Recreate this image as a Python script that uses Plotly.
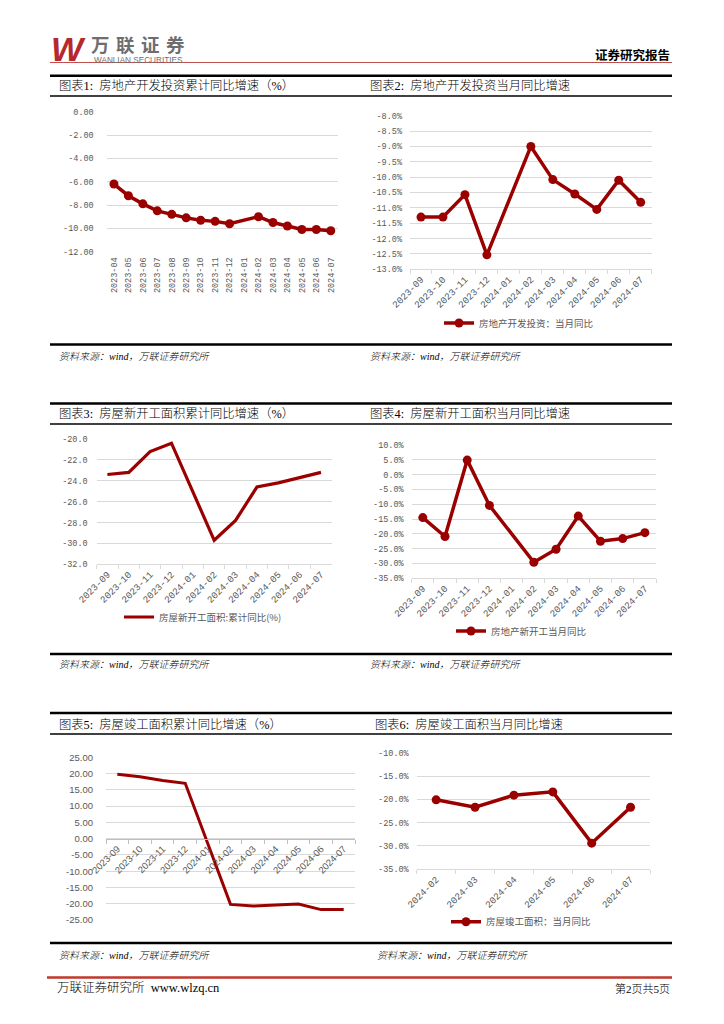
import plotly.graph_objects as go

W, H = 724, 1024
RED = "#9B0000"
GRID = "#D9D9D9"
TICKC = "#595959"
MONO = "Liberation Mono, Noto Sans CJK SC"
SANS = "Liberation Sans, Noto Sans CJK SC"
CJK = "Liberation Serif, Noto Sans CJK SC"

# ---------------- data ----------------
cats_1 = ["2023-04", "2023-05", "2023-06", "2023-07", "2023-08", "2023-09", "2023-10", "2023-11",
          "2023-12", "2024-01", "2024-02", "2024-03", "2024-04", "2024-05", "2024-06", "2024-07"]
vals_1 = [-6.2, -7.2, -7.9, -8.5, -8.8, -9.1, -9.3, -9.4, -9.6, None, -9.0, -9.5, -9.8, -10.1, -10.1, -10.2]
yt_1 = [0, -2, -4, -6, -8, -10, -12]
yl_1 = ["0.00", "-2.00", "-4.00", "-6.00", "-8.00", "-10.00", "-12.00"]
name_1 = "房地产开发投资完成额:累计同比"

cats_2 = ["2023-09", "2023-10", "2023-11", "2023-12", "2024-01", "2024-02",
          "2024-03", "2024-04", "2024-05", "2024-06", "2024-07"]
vals_2 = [-11.3, -11.3, -10.57, -12.53, None, -9.0, -10.08, -10.55, -11.05, -10.1, -10.82]
yt_2 = [-8.0, -8.5, -9.0, -9.5, -10.0, -10.5, -11.0, -11.5, -12.0, -12.5, -13.0]
yl_2 = ["-8.0%", "-8.5%", "-9.0%", "-9.5%", "-10.0%", "-10.5%", "-11.0%", "-11.5%", "-12.0%", "-12.5%", "-13.0%"]
name_2 = "房地产开发投资：当月同比"

cats_3 = list(cats_2)
vals_3 = [-23.4, -23.2, -21.2, -20.4, None, -29.7, -27.8, -24.6, -24.2, -23.7, -23.2]
yt_3 = [-20, -22, -24, -26, -28, -30, -32]
yl_3 = ["-20.0", "-22.0", "-24.0", "-26.0", "-28.0", "-30.0", "-32.0"]
name_3 = "房屋新开工面积:累计同比(%)"

cats_4 = list(cats_2)
vals_4 = [-14.5, -20.9, 4.9, -10.4, None, -29.6, -25.2, -14.0, -22.5, -21.6, -19.6]
yt_4 = [10, 5, 0, -5, -10, -15, -20, -25, -30, -35]
yl_4 = ["10.0%", "5.0%", "0.0%", "-5.0%", "-10.0%", "-15.0%", "-20.0%", "-25.0%", "-30.0%", "-35.0%"]
name_4 = "房地产新开工当月同比"

cats_5 = list(cats_2)
vals_5 = [19.8, 19.0, 17.9, 17.0, None, -20.2, -20.7, -20.4, -20.1, -21.8, -21.8]
yt_5 = [25, 20, 15, 10, 5, 0, -5, -10, -15, -20, -25]
yl_5 = ["25.00", "20.00", "15.00", "10.00", "5.00", "0.00", "-5.00", "-10.00", "-15.00", "-20.00", "-25.00"]
name_5 = "房屋竣工面积:累计同比"

cats_6 = ["2024-02", "2024-03", "2024-04", "2024-05", "2024-06", "2024-07"]
vals_6 = [-20.1, -21.7, -19.1, -18.4, -29.4, -21.7]
yt_6 = [-10, -15, -20, -25, -30, -35]
yl_6 = ["-10.0%", "-15.0%", "-20.0%", "-25.0%", "-30.0%", "-35.0%"]
name_6 = "房屋竣工面积：当月同比"

titles = ["图表1:  房地产开发投资累计同比增速（%）", "图表2:  房地产开发投资当月同比增速",
          "图表3:  房屋新开工面积累计同比增速（%）", "图表4:  房屋新开工面积当月同比增速",
          "图表5:  房屋竣工面积累计同比增速（%）", "图表6:  房屋竣工面积当月同比增速"]
source_text = "资料来源：wind，万联证券研究所"
logo_chars = ["万", "联", "证", "券"]


def PX(x):
    return x / W


def PY(y):
    return 1 - y / H


fig = go.Figure()

panels = [
    dict(c=cats_1, v=vals_1, yt=yt_1, yl=yl_1, name=name_1, xd=(106.7, 338), yd=(251.7, 111.7),
         yr=(-12, 0), ang=-90, xfs=8.5, xf=MONO, yf=MONO, yfs=8.5, so=12, mk=True, lw=3.5,
         ticks=False, leg=(115, 307), xso=3),
    dict(c=cats_2, v=vals_2, yt=yt_2, yl=yl_2, name=name_2, xd=(410, 651.7), yd=(269.3, 115.7),
         yr=(-13, -8), ang=-45, xfs=9.5, xf=MONO, yf=MONO, yfs=8.5, so=7, mk=True, lw=3.5,
         ticks=True, leg=(439, 323), xso=0),
    dict(c=cats_3, v=vals_3, yt=yt_3, yl=yl_3, name=name_3, xd=(96.7, 331.7), yd=(564.3, 439),
         yr=(-32, -20), ang=-45, xfs=9.5, xf=MONO, yf=MONO, yfs=8.5, so=8, mk=False, lw=3.2,
         ticks=True, leg=(119, 617), xso=0),
    dict(c=cats_4, v=vals_4, yt=yt_4, yl=yl_4, name=name_4, xd=(411.7, 656), yd=(578.3, 445),
         yr=(-35, 10), ang=-45, xfs=9.5, xf=MONO, yf=MONO, yfs=8.5, so=7, mk=True, lw=3.5,
         ticks=True, leg=(451, 631), xso=0),
    dict(c=cats_5, v=vals_5, yt=yt_5, yl=yl_5, name=name_5, xd=(106, 355), yd=(920, 757.3),
         yr=(-25, 25), ang=-45, xfs=9.5, xf=SANS, yf=SANS, yfs=9.5, so=12, mk=False, lw=3,
         ticks=True, leg=None, xso=0),
    dict(c=cats_6, v=vals_6, yt=yt_6, yl=yl_6, name=name_6, xd=(416.7, 650), yd=(869.3, 752.7),
         yr=(-35, -10), ang=-45, xfs=9.5, xf=MONO, yf=MONO, yfs=8.5, so=7, mk=True, lw=3.5,
         ticks=True, leg=(446, 921.7), xso=0),
]

layout_updates = {}
for i, p in enumerate(panels, start=1):
    sx = "" if i == 1 else str(i)
    xa, ya = "x" + sx, "y" + sx
    legname = "legend" + sx
    fig.add_trace(go.Scatter(
        x=p["c"], y=p["v"], name=p["name"], xaxis=xa, yaxis=ya,
        mode="lines+markers" if p["mk"] else "lines",
        line=dict(color=RED, width=p["lw"]),
        marker=dict(color=RED, size=9),
        connectgaps=True,
        showlegend=p["leg"] is not None,
        legend=legname,
        hoverinfo="skip",
    ))
    ydom = (PY(p["yd"][0]), PY(p["yd"][1]))
    xaxis = dict(
        domain=[PX(p["xd"][0]), PX(p["xd"][1])], anchor=ya,
        type="category", categoryorder="array", categoryarray=p["c"],
        range=[-0.5, len(p["c"]) - 0.5],
        showgrid=False, zeroline=False, automargin=False,
        tickangle=p["ang"], tickfont=dict(family=p["xf"], size=p["xfs"], color=TICKC),
        ticklabelstandoff=p["xso"],
        showline=p["ticks"], linecolor="#BFBFBF" if i == 5 else GRID, linewidth=1,
        ticks="outside" if p["ticks"] else "", ticklen=4, tickcolor="#BFBFBF" if i == 5 else GRID,
        tickson="boundaries" if p["ticks"] else "labels",
        fixedrange=True,
    )
    if i == 5:
        y0, y1 = ydom
        pos = y0 + (0 - p["yr"][0]) / (p["yr"][1] - p["yr"][0]) * (y1 - y0)
        xaxis.update(anchor="free", position=pos)
    yaxis = dict(
        domain=list(ydom), anchor=xa, range=list(p["yr"]),
        tickmode="array", tickvals=p["yt"], ticktext=p["yl"],
        showgrid=True, gridcolor=GRID, gridwidth=1, zeroline=False, showline=False,
        ticks="", ticklabelstandoff=p["so"], automargin=False,
        tickfont=dict(family=p["yf"], size=p["yfs"], color=TICKC),
        fixedrange=True,
    )
    layout_updates["xaxis" + sx] = xaxis
    layout_updates["yaxis" + sx] = yaxis
    if p["leg"] is not None:
        layout_updates[legname] = dict(
            x=PX(p["leg"][0]), y=PY(p["leg"][1]), xanchor="left", yanchor="middle",
            orientation="h", bgcolor="rgba(0,0,0,0)", borderwidth=0,
            font=dict(family="Noto Sans CJK SC", size=9.5, color=TICKC),
            itemwidth=30,
        )

fig.update_layout(**layout_updates)

# ---------------- decorations ----------------
shapes = []
def hline(y, x0, x1, color, width):
    shapes.append(dict(type="line", xref="paper", yref="paper", x0=PX(x0), x1=PX(x1),
                       y0=PY(y), y1=PY(y), line=dict(color=color, width=width)))

hline(62.5, 50, 672, "#C0504D", 1.2)
for y in [75.7, 344.5, 403.5, 654, 713, 943]:
    hline(y, 50, 672, "#000000", 2.5)
for y in [96, 424, 734]:
    hline(y, 50, 672, "#000000", 1.5)
hline(977.5, 47, 672, "#C0392B", 2.5)

ann = []
def text(x, y, s, size, color="#000000", family=CJK, xanchor="left", yanchor="middle", weight=None):
    f = dict(family=family, size=size, color=color)
    if weight:
        f["weight"] = weight
    ann.append(dict(xref="paper", yref="paper", x=PX(x), y=PY(y), text=s, showarrow=False,
                    xanchor=xanchor, yanchor=yanchor, font=f))

# logo
text(49, 48.5, "<b><i>W</i></b>", 34, "#B5282E", "Liberation Sans")
for k, ch in enumerate(logo_chars):
    text(89 + k * 25, 44, "<b>" + ch + "</b>", 18.5, "#6E6E6E", "Noto Sans CJK SC")
text(92, 60.5, "WANLIAN SECURITIES", 8.2, "#6E6E6E", "Liberation Sans")
text(672, 55, "<b>证券研究报告</b>", 12.5, "#000000", CJK, xanchor="right")

# titles
title_pos = [(57, 86), (368, 86), (57, 414), (368, 414), (57, 724), (373, 724)]
for t, (x, y) in zip(titles, title_pos):
    text(x, y, t, 12.3, weight=300)

src_pos = [(57, 356), (368, 356), (57, 664), (368, 664), (57, 955), (375, 955)]
for x, y in src_pos:
    text(x, y, "<i>" + source_text + "</i>", 10, "#000000", weight=300)

# footer
text(55, 988, "万联证券研究所  www.wlzq.cn", 12.5, "#000000", weight=300)
text(672, 988, "第2页共5页", 11, "#000000", xanchor="right", weight=300)

fig.update_layout(
    width=W, height=H, margin=dict(l=0, r=0, t=0, b=0, pad=0, autoexpand=False),
    paper_bgcolor="white", plot_bgcolor="white",
    shapes=shapes, annotations=ann,
)

fig.write_html("out.html", config={"displayModeBar": False, "staticPlot": True},
               post_script="document.body.style.margin='0';document.body.style.overflow='hidden';"
                           "document.documentElement.style.overflow='hidden';")
